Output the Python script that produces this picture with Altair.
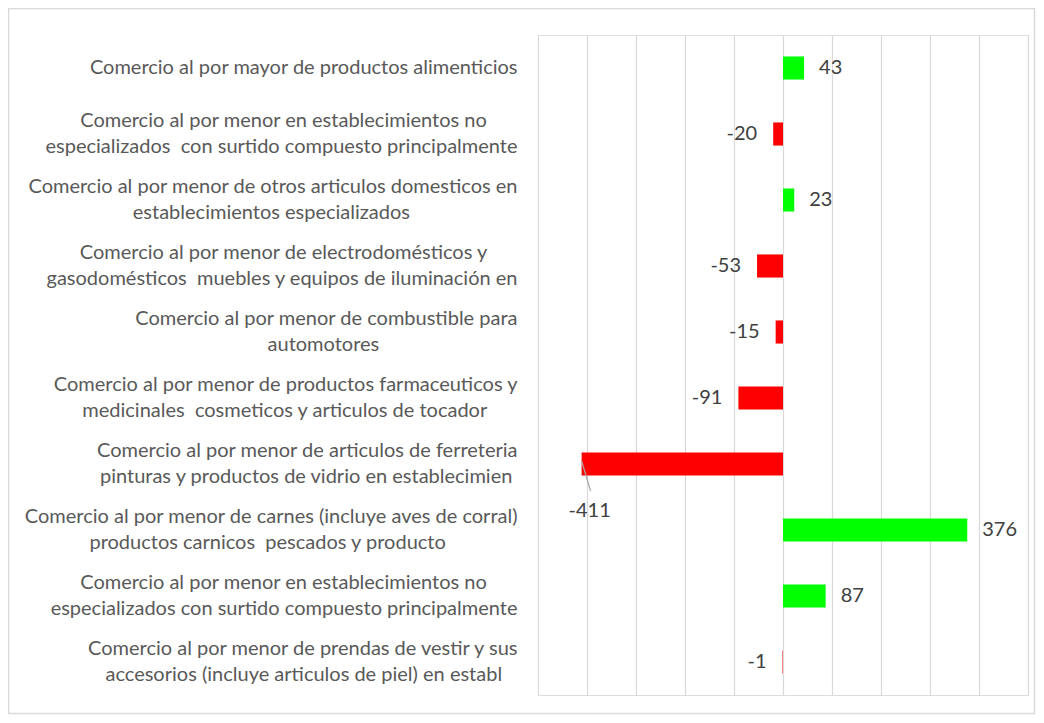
import altair as alt
import pandas as pd

categories = [
    "Comercio al por mayor de productos alimenticios",
    "Comercio al por menor en establecimientos no|especializados  con surtido compuesto principalmente",
    "Comercio al por menor de otros articulos domesticos en|establecimientos especializados",
    "Comercio al por menor de electrodomésticos y|gasodomésticos  muebles y equipos de iluminación en",
    "Comercio al por menor de combustible para|automotores",
    "Comercio al por menor de productos farmaceuticos y|medicinales  cosmeticos y articulos de tocador",
    "Comercio al por menor de articulos de ferreteria|pinturas y productos de vidrio en establecimien",
    "Comercio al por menor de carnes (incluye aves de corral)|productos carnicos  pescados y producto",
    "Comercio al por menor en establecimientos no|especializados con surtido compuesto principalmente",
    "Comercio al por menor de prendas de vestir y sus|accesorios (incluye articulos de piel) en establ",
]
values = [43, -20, 23, -53, -15, -91, -411, 376, 87, -1]
x_ticks = [-500, -400, -300, -200, -100, 0, 100, 200, 300, 400, 500]

NBSP = "\u00a0"
WJ = "\u2060"

# rough advance widths (em) of the label font, only used to centre the two
# lines of a label on each other, as the original does
_W = {"a": .49, "b": .55, "c": .46, "d": .55, "e": .52, "f": .32, "g": .50, "h": .55,
      "i": .24, "j": .24, "k": .50, "l": .24, "m": .82, "n": .55, "o": .55, "p": .55,
      "q": .55, "r": .36, "s": .42, "t": .34, "u": .55, "v": .50, "w": .76, "x": .49,
      "y": .50, "z": .45, "C": .66, " ": .25, NBSP: .25, "(": .30, ")": .30,
      "é": .52, "ó": .55}


def est_width(s):
    return sum(_W.get(ch, .5) for ch in s)


def display_label(s):
    lines = [ln.replace("  ", " " + NBSP) for ln in s.split("|")]
    widest = max(est_width(ln) for ln in lines)
    out = []
    for ln in lines:
        pad = int(round((widest - est_width(ln)) / 2 / _W[NBSP]))
        out.append(ln + NBSP * pad + (WJ if pad else ""))
    return "|".join(out)


labels = [display_label(c) for c in categories]
df = pd.DataFrame({"cat": labels, "v": values})

FONT = "Lato"
W, H = 490, 660
NUM_SIZE = 20

x_enc = alt.X("v:Q", scale=alt.Scale(domain=[-500, 500], nice=False), axis=alt.Axis(
    values=x_ticks, labels=False, ticks=False, domain=False, grid=True,
    gridColor="#d9d9d9", gridWidth=1.2, title=None))
y_enc = alt.Y("cat:N", sort=labels, scale=alt.Scale(paddingInner=0.65, paddingOuter=0.325),
              axis=alt.Axis(title=None, domain=False, ticks=False, labelPadding=21,
                            labelExpr="split(datum.label, '|')", labelAlign="right",
                            labelBaseline="middle",
                            labelOffset={"condition": {"test": "indexof(datum.value, '|') >= 0",
                                                       "value": -13}, "value": 0},
                            labelFont=FONT, labelFontSize=20, labelColor="#595959",
                            labelLineHeight=26, labelLimit=700))

base = alt.Chart(df).transform_calculate(txt="'' + datum.v")
y_plain = alt.Y("cat:N", sort=labels)

bars = base.mark_bar(cornerRadius=0).encode(
    x=x_enc,
    x2=alt.datum(0),
    y=y_enc,
    color=alt.condition("datum.v >= 0", alt.value("#00ff00"), alt.value("#ff0000")),
)

pos_text = base.transform_filter("datum.v >= 0").mark_text(
    align="left", baseline="middle", dx=15, font=FONT, fontSize=NUM_SIZE, color="#404040"
).encode(x="v:Q", y=y_plain, text="txt:N")

neg_text = base.transform_filter("datum.v < 0 && datum.v > -300").mark_text(
    align="right", baseline="middle", dx=-16, font=FONT, fontSize=NUM_SIZE, color="#404040"
).encode(x="v:Q", y=y_plain, text="txt:N")

big_text = base.transform_filter("datum.v <= -300").mark_text(
    align="center", baseline="middle", dx=8, dy=47, font=FONT, fontSize=NUM_SIZE, color="#404040"
).encode(x="v:Q", y=y_plain, text="txt:N")

leader = base.transform_filter("datum.v <= -300").mark_rule(
    color="#a6a6a6", strokeWidth=1.2, x2Offset=9, y2Offset=27, yOffset=-3
).encode(
    x="v:Q", x2="v:Q",
    y=alt.Y("cat:N", sort=labels, bandPosition=0.5),
    y2=alt.Y2("cat:N", bandPosition=0.5),
)

frame = alt.Chart(pd.DataFrame({"a": [0]})).mark_rect(
    fill=None, stroke="#d9d9d9", strokeWidth=1.5
).encode(x=alt.value(-529.5), x2=alt.value(W + 6.5), y=alt.value(-26.5), y2=alt.value(H + 18.5))

chart = alt.layer(frame, bars, leader, pos_text, neg_text, big_text).properties(
    width=W, height=H,
    autosize=alt.AutoSizeParams(type="none"),
    padding={"left": 530, "top": 27, "right": 8, "bottom": 20},
).configure_view(strokeWidth=0).configure(background="white")

chart.save("out.html", embed_options={"renderer": "svg", "actions": False})
